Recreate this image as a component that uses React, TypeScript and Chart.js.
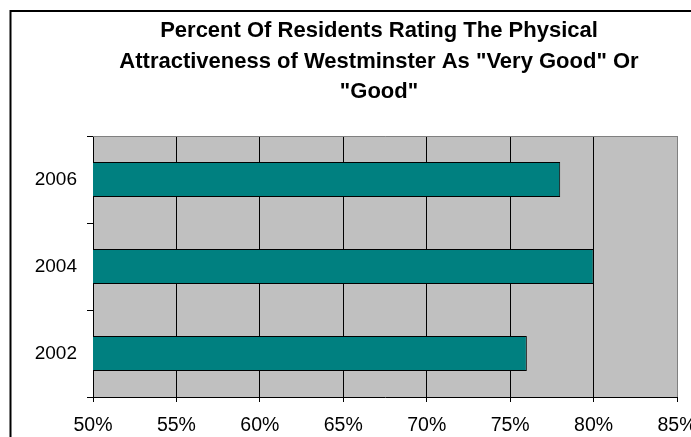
import React, { useEffect, useRef } from "react";
import { Chart, registerables } from "chart.js";

Chart.register(...registerables);

const titleLines = [
  "Percent Of Residents Rating The Physical",
  'Attractiveness of Westminster As "Very Good" Or',
  '"Good"',
];
const categories = ["2006", "2004", "2002"];
const values = [78, 80, 76];
const xMin = 50;
const xMax = 85;
const xStep = 5;

const CANVAS_W = 758;
const CANVAS_H = 470;
const RIGHT_SPACE = 81;
const FONT = "'Liberation Sans', Arial, Helvetica, sans-serif";

const framePlugin = {
  id: "frame",
  beforeDraw(chart: any) {
    const { ctx, chartArea } = chart;
    ctx.save();
    ctx.fillStyle = "#ffffff";
    ctx.fillRect(0, 0, chart.width, chart.height);
    ctx.fillStyle = "#C0C0C0";
    ctx.fillRect(
      chartArea.left,
      chartArea.top,
      chartArea.right - chartArea.left,
      chartArea.bottom - chartArea.top
    );
    ctx.restore();
  },
  afterDraw(chart: any) {
    const { ctx, chartArea } = chart;
    ctx.save();
    ctx.strokeStyle = "#808080";
    ctx.lineWidth = 1;
    ctx.beginPath();
    ctx.moveTo(chartArea.left, chartArea.top + 0.5);
    ctx.lineTo(chartArea.right + 0.5, chartArea.top + 0.5);
    ctx.stroke();
    ctx.strokeStyle = "#000000";
    ctx.lineWidth = 2;
    ctx.strokeRect(10.5, 11, chart.width - 21, chart.height - 22);
    ctx.restore();
  },
};

export default function App() {
  const canvasRef = useRef<HTMLCanvasElement | null>(null);

  useEffect(() => {
    if (!canvasRef.current) return;
    const lastIndex = Math.round((xMax - xMin) / xStep);
    const chart = new Chart(canvasRef.current, {
      type: "bar",
      data: {
        labels: categories,
        datasets: [
          {
            data: values,
            backgroundColor: "#008080",
            borderColor: "#000000",
            borderWidth: 1,
            borderSkipped: false,
            barPercentage: 0.4,
            categoryPercentage: 1,
          },
        ],
      },
      options: {
        indexAxis: "y",
        responsive: false,
        animation: false,
        devicePixelRatio: 1,
        layout: { padding: 0 },
        plugins: {
          legend: { display: false },
          tooltip: { enabled: false },
          title: {
            display: true,
            text: titleLines,
            color: "#000000",
            font: { family: FONT, size: 22, weight: "bold", lineHeight: 30.5 / 22 },
            padding: { top: 16, bottom: 28.5 },
          },
        },
        scales: {
          x: {
            type: "linear",
            min: xMin,
            max: xMax,
            afterFit(scale: any) {
              scale.height = CANVAS_H - 397;
            },
            ticks: {
              stepSize: xStep,
              color: "#000000",
              padding: 12,
              font: { family: FONT, size: 19.5 },
              callback: (v: any) => v + "%",
            },
            grid: {
              drawOnChartArea: true,
              drawTicks: true,
              tickLength: 5,
              tickColor: "#000000",
              color: (c: any) => (c.index === lastIndex ? "#808080" : "#000000"),
              lineWidth: 1,
            },
            border: { display: true, color: "#000000", width: 1 },
          },
          y: {
            type: "category",
            afterFit(scale: any) {
              scale.width = 93;
            },
            ticks: {
              color: "#000000",
              padding: 10,
              font: { family: FONT, size: 19 },
            },
            grid: {
              offset: true,
              drawOnChartArea: false,
              drawTicks: true,
              tickLength: 6,
              tickColor: "#000000",
              color: "#000000",
            },
            border: { display: true, color: "#000000", width: 1 },
          },
          ySpace: {
            type: "category",
            position: "right",
            display: true,
            afterFit(scale: any) {
              scale.width = RIGHT_SPACE;
            },
            ticks: { display: false },
            grid: { display: false, drawTicks: false },
            border: { display: false },
          },
        },
      },
      plugins: [framePlugin],
    } as any);
    return () => chart.destroy();
  }, []);

  return (
    <div
      style={{
        position: "fixed",
        left: 0,
        top: 0,
        width: 691,
        height: 437,
        overflow: "hidden",
        background: "#ffffff",
      }}
    >
      <canvas
        ref={canvasRef}
        width={CANVAS_W}
        height={CANVAS_H}
        style={{ display: "block", width: CANVAS_W, height: CANVAS_H }}
      />
    </div>
  );
}
